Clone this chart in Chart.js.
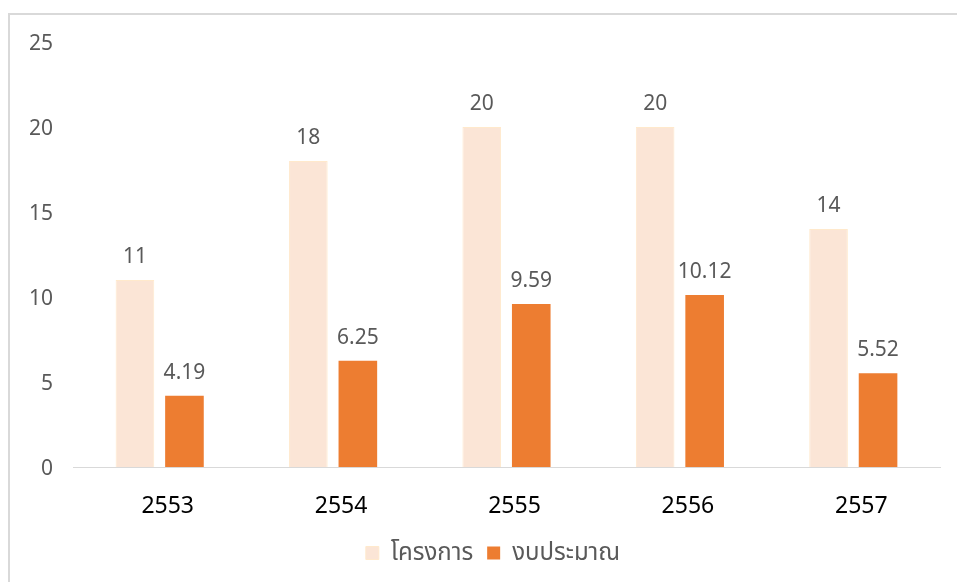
<!DOCTYPE html>
<html><head><meta charset="utf-8">
<script src="https://cdn.jsdelivr.net/npm/chart.js@4"></script>
<style>
html,body{margin:0;padding:0;background:#fff;width:957px;height:582px;overflow:hidden}
#wrap{position:absolute;left:0;top:0;width:957px;height:582px}
#frame{position:absolute;left:8px;top:13px;width:1000px;height:700px;border:2px solid #d9d9d9;box-sizing:border-box;pointer-events:none}
</style></head>
<body>
<div id="frame"></div>
<div id="wrap"><canvas id="c" width="957" height="582"></canvas></div>
<script>
const categories = ['2553','2554','2555','2556','2557'];
const projects = [11, 18, 20, 20, 14];
const budget = [4.19, 6.25, 9.59, 10.12, 5.52];
const seriesNames = ['โครงการ', 'งบประมาณ'];
const yTicks = [0, 5, 10, 15, 20, 25];

const FONT = "'Noto Sans', 'Noto Sans Thai', Tahoma, sans-serif";

const valueLabels = {
  id: 'valueLabels',
  afterDatasetsDraw(chart) {
    const ctx = chart.ctx;
    ctx.save();
    ctx.font = '21px ' + FONT;
    ctx.fillStyle = '#595959';
    ctx.textAlign = 'center';
    ctx.textBaseline = 'middle';
    chart.data.datasets.forEach((ds, di) => {
      chart.getDatasetMeta(di).data.forEach((bar, i) => {
        ctx.fillText(String(ds.data[i]), bar.x, bar.y - 23);
      });
    });
    ctx.restore();
  }
};

const legendShift = {
  id: 'legendShift',
  afterLayout(chart) {
    const l = chart.legend;
    if (l) { l.left += 23; l.right += 23; }
  }
};

new Chart(document.getElementById('c'), {
  type: 'bar',
  data: {
    labels: categories,
    datasets: [
      { label: seriesNames[0], data: projects, backgroundColor: '#FBE5D6', borderColor: '#FFE9CC', borderWidth: 1,
        barPercentage: 0.78, categoryPercentage: 0.571 },
      { label: seriesNames[1], data: budget, backgroundColor: '#ED7D31', borderColor: '#ED7D31', borderWidth: 0,
        barPercentage: 0.78, categoryPercentage: 0.571 }
    ]
  },
  options: {
    responsive: false,
    animation: false,
    devicePixelRatio: 1,
    layout: { padding: { left: 0, right: 17, top: 42, bottom: 7 } },
    plugins: {
      tooltip: { enabled: false },
      legend: {
        position: 'bottom',
        labels: {
          font: { size: 24, family: FONT },
          color: '#595959',
          boxWidth: 13, boxHeight: 13,
          padding: 14
        }
      }
    },
    scales: {
      x: {
        grid: { display: false, drawTicks: false },
        border: { display: true, color: '#d9d9d9', width: 1 },
        ticks: { font: { size: 23, family: FONT }, color: '#000', padding: 26, labelOffset: 8 },
        afterFit(s) { s.height = 60; }
      },
      y: {
        min: 0, max: 25,
        afterBuildTicks(s) { s.ticks = yTicks.map(v => ({ value: v })); },
        grid: { display: false, drawTicks: false },
        border: { display: false },
        ticks: { font: { size: 21, family: FONT }, color: '#595959', padding: 20, labelOffset: 2 },
        afterFit(s) { s.width = 73; }
      }
    }
  },
  plugins: [valueLabels, legendShift]
});
</script>
</body></html>
